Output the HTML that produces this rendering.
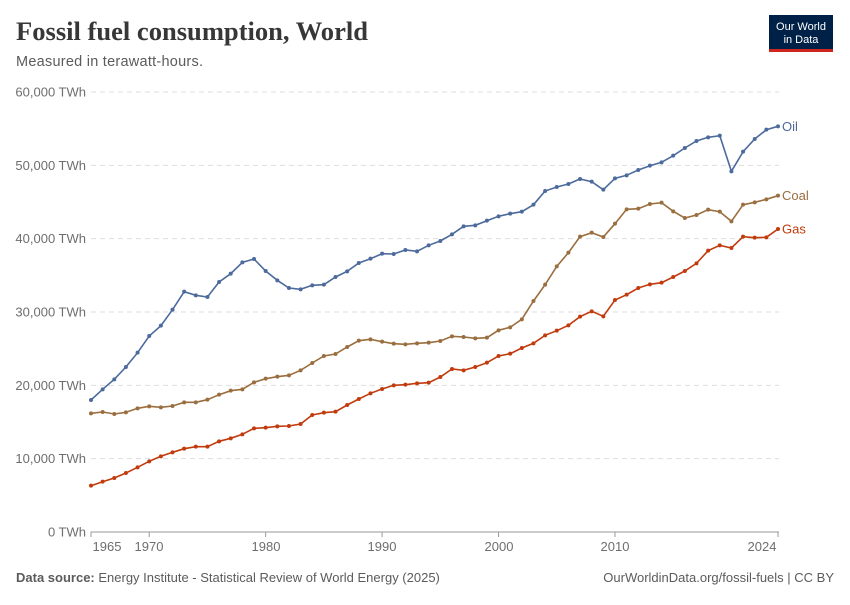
<!DOCTYPE html>
<html><head><meta charset="utf-8"><style>
body{margin:0;background:#fff;width:850px;height:600px;overflow:hidden;font-family:"Liberation Sans",sans-serif}
</style></head><body>
<svg width="850" height="600" xmlns="http://www.w3.org/2000/svg" id="s">
<text x="16" y="40" font-family="Liberation Serif,serif" font-weight="bold" font-size="26" fill="#373737" textLength="352" lengthAdjust="spacingAndGlyphs">Fossil fuel consumption, World</text>
<text x="16" y="66" font-size="14.5" fill="#5b5b5b" textLength="187">Measured in terawatt-hours.</text>
<rect x="769" y="15" width="64" height="36" fill="#002147"/>
<rect x="769" y="49" width="64" height="3" fill="#ce261e"/>
<text x="801" y="30" font-size="11" fill="#fff" text-anchor="middle">Our World</text>
<text x="801" y="43" font-size="11" fill="#fff" text-anchor="middle">in Data</text>
<g id="grid"></g>
<g id="lines"></g>
<text x="16" y="582" font-size="13" fill="#5b5b5b"><tspan font-weight="bold">Data source:</tspan> Energy Institute - Statistical Review of World Energy (2025)</text>
<text x="834" y="582" font-size="13" fill="#5b5b5b" text-anchor="end">OurWorldinData.org/fossil-fuels | CC BY</text>
</svg>
<script>
var NS="http://www.w3.org/2000/svg",g=document.getElementById('grid'),L=document.getElementById('lines');
function el(t,a,p,txt){var e=document.createElementNS(NS,t);for(var k in a)e.setAttribute(k,a[k]);if(txt)e.textContent=txt;p.appendChild(e);return e;}
var labs=["0 TWh","10,000 TWh","20,000 TWh","30,000 TWh","40,000 TWh","50,000 TWh","60,000 TWh"];
for(var i=0;i<=6;i++){var y=532-i*73.33;
 if(i>0)el('line',{x1:91,x2:779,y1:y,y2:y,stroke:'#dddddd','stroke-dasharray':'5,4'},g);
 el('text',{x:86,y:y+4.5,'font-size':13,fill:'#6e6e6e','text-anchor':'end'},g,labs[i]);}
el('line',{x1:91,x2:779,y1:532,y2:532,stroke:'#999'},g);
[[1965,107],[1970,149],[1980,266],[1990,382],[2000,499],[2010,615],[2024,762]].forEach(function(t){
 var x=91+(t[0]-1965)*11.644;el('line',{x1:x,x2:x,y1:532,y2:537,stroke:'#999'},g);
 el('text',{x:t[1],y:551,'font-size':13,fill:'#6e6e6e','text-anchor':'middle'},g,String(t[0]));});
var oil=[900,868,838,801,758,708,677,629,575,586,591,546,521,487,477,513,541,564,568,556,554,531,514,489,476,461,462,450,454,436,
423,403,379,376,362,349,341,335,314,273,261,252,237,245,269,235,226,210,197,187,167,144,123,112,107,214,155,117,89,79];
var coal=[940,936,942,937,925,919,922,918,907,907,899,884,872,868,847,836,830,826,811,789,768,762,741,722,718,725,731,733,730,728,
723,709,711,715,713,691,682,658,603,554,499,458,410,398,411,371,328,326,312,308,334,354,345,329,335,364,314,307,298,287];
var gas=[1157,1145,1134,1119,1102,1084,1069,1057,1046,1040,1040,1024,1015,1003,985,983,979,978,972,945,938,935,915,897,880,867,856,854,850,848,
831,807,811,801,788,768,761,744,730,706,692,676,650,634,649,600,584,564,553,548,531,513,490,452,436,444,410,413,412,387];
[[oil,'#4c6a9c','Oil'],[coal,'#9a6e3e','Coal'],[gas,'#c13b0d','Gas']].forEach(function(s){
 var pts=s[0].map(function(v,i){return [91+i*11.644,100+v/3];});
 el('polyline',{points:pts.map(function(p){return p[0].toFixed(1)+','+p[1].toFixed(1)}).join(' '),fill:'none',stroke:s[1],'stroke-width':1.6},L);
 pts.forEach(function(p){el('circle',{cx:p[0],cy:p[1],r:2,fill:s[1]},L);});
 var l=pts[pts.length-1];el('text',{x:782,y:l[1]+4.5,'font-size':13,fill:s[1]},L,s[2]);});
</script>
</body></html>
